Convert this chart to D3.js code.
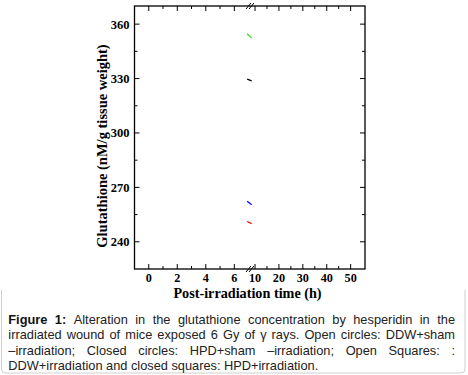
<!DOCTYPE html>
<html>
<head>
<meta charset="utf-8">
<script src="https://cdn.jsdelivr.net/npm/d3@7"></script>
<style>
  body { margin: 0; background: #fff; }
  svg { display: block; }
</style>
</head>
<body>
<script>
//Data
var times = [6.9, 8.6];               // the visible bits of the lines, either side of the axis break
var greenVals = [354.7, 352.3];
var blackVals = [329.7, 328.7];
var blueVals  = [262.4, 260.4];
var redVals   = [251.2, 250.0];

var seriesNames  = ["green", "black", "blue", "red"];
var seriesColors = ["#1ee61e", "#000000", "#0000ff", "#ff0000"];
var seriesVals   = [greenVals, blackVals, blueVals, redVals];

var xLeftTicks  = [0, 2, 4, 6];
var xLeftMinor  = [1, 3, 5];
var xRightTicks = [10, 20, 30, 40, 50];
var xRightMinor = [15, 25, 35, 45];
var yTicks = [240, 270, 300, 330, 360];
var yMinor = [255, 285, 315, 345];

var captionLines = [
  ["Figure 1:", "Alteration in the glutathione concentration by hesperidin in the"],
  ["", "irradiated wound of mice exposed 6 Gy of \u03b3 rays. Open circles: DDW+sham"],
  ["", "\u2013irradiation; Closed circles: HPD+sham \u2013irradiation; Open Squares: :"],
  ["", "DDW+irradiation and closed squares: HPD+irradiation."]
];

//Width and height
var w = 468;
var h = 375;
var L = 134.5, R = 365, T = 6, B = 269;
var breakX = 250;

var svg = d3.select("body").append("svg")
    .attr("width", w)
    .attr("height", h);

//Broken x axis: two linear pieces
var xLeft = d3.scaleLinear().domain([-1, 7.1]).range([L, breakX]);
var xRight = d3.scaleLinear().domain([7.9, 56]).range([breakX, R]);
function x(t) { return t <= 7.1 ? xLeft(t) : xRight(t); }

var y = d3.scaleLinear().domain([225, 370]).range([B, T]);

var serif = "'Liberation Serif', 'Times New Roman', serif";

//Lines
var line = d3.line()
    .x(function(d) { return x(d.t); })
    .y(function(d) { return y(d.v); });

seriesVals.forEach(function(vals, i) {
  var pts = times.map(function(t, j) { return {t: t, v: vals[j]}; });
  svg.append("path")
     .attr("d", line(pts))
     .attr("fill", "none")
     .attr("stroke", seriesColors[i])
     .attr("stroke-width", 1.2);
});

//Frame
svg.append("rect")
   .attr("x", L).attr("y", T)
   .attr("width", R - L).attr("height", B - T)
   .attr("fill", "none")
   .attr("stroke", "#000")
   .attr("stroke-width", 1.3);

//Inward ticks on all four sides
function tickLines(vals, scale, len, horiz) {
  vals.forEach(function(v) {
    var p = scale(v);
    if (horiz) {
      svg.append("line").attr("x1", p).attr("x2", p).attr("y1", B).attr("y2", B - len)
         .attr("stroke", "#000").attr("stroke-width", 1);
      svg.append("line").attr("x1", p).attr("x2", p).attr("y1", T).attr("y2", T + len)
         .attr("stroke", "#000").attr("stroke-width", 1);
    } else {
      svg.append("line").attr("y1", p).attr("y2", p).attr("x1", L).attr("x2", L + len)
         .attr("stroke", "#000").attr("stroke-width", 1);
      svg.append("line").attr("y1", p).attr("y2", p).attr("x1", R).attr("x2", R - len)
         .attr("stroke", "#000").attr("stroke-width", 1);
    }
  });
}
tickLines(xLeftTicks, xLeft, 5, true);
tickLines(xLeftMinor, xLeft, 3, true);
tickLines(xRightTicks, xRight, 5, true);
tickLines(xRightMinor, xRight, 3, true);
tickLines(yTicks, y, 5, false);
tickLines(yMinor, y, 3, false);

//Tick labels
svg.selectAll(".xl")
   .data(xLeftTicks.map(function(d) { return {v: d, s: xLeft}; })
     .concat(xRightTicks.map(function(d) { return {v: d, s: xRight}; })))
   .enter().append("text")
   .attr("x", function(d) { return d.s(d.v); })
   .attr("y", 281.5)
   .attr("text-anchor", "middle")
   .attr("font-family", serif)
   .attr("font-weight", "bold")
   .attr("font-size", 12.2)
   .text(function(d) { return d.v; });

svg.selectAll(".yl")
   .data(yTicks)
   .enter().append("text")
   .attr("x", 129.5)
   .attr("y", function(d) { return y(d) + 4.5; })
   .attr("text-anchor", "end")
   .attr("font-family", serif)
   .attr("font-weight", "bold")
   .attr("font-size", 12.5)
   .text(function(d) { return d; });

//Axis break marks
[T, B].forEach(function(yy) {
  [-1.5, 1.5].forEach(function(dx) {
    svg.append("line")
       .attr("x1", breakX + dx - 2.5).attr("y1", yy + 3)
       .attr("x2", breakX + dx + 2.5).attr("y2", yy - 3)
       .attr("stroke", "#000").attr("stroke-width", 1);
  });
});

//Axis titles
svg.append("text")
   .attr("x", 247.5).attr("y", 298)
   .attr("text-anchor", "middle")
   .attr("font-family", serif)
   .attr("font-weight", "bold")
   .attr("font-size", 14.2)
   .text("Post-irradiation time (h)");

svg.append("text")
   .attr("transform", "translate(107,146) rotate(-90)")
   .attr("text-anchor", "middle")
   .attr("font-family", serif)
   .attr("font-weight", "bold")
   .attr("font-size", 14.5)
   .text("Glutathione (nM/g tissue weight)");

//Caption box border
svg.append("path")
   .attr("d", "M1.5,290 L1.5,369 Q1.5,373 5.5,373 L461,373 Q465,373 465,369 L465,290")
   .attr("fill", "none")
   .attr("stroke", "#cfcfcf")
   .attr("stroke-width", 1);

//Caption, justified line by line
var capLeft = 8.3, capRight = 455;
captionLines.forEach(function(ln, i) {
  var by = 324 + i * 15.3;
  var words = [];
  if (ln[0]) ln[0].split(" ").forEach(function(wd) { words.push({t: wd, b: true}); });
  ln[1].split(" ").forEach(function(wd) { words.push({t: wd, b: false}); });
  var g = svg.append("g");
  var nodes = words.map(function(wd) {
    return g.append("text")
      .attr("y", by)
      .attr("font-family", "'Liberation Sans', Arial, sans-serif")
      .attr("font-size", 12.8)
      .attr("font-weight", wd.b ? "bold" : "normal")
      .attr("fill", wd.b ? "#111" : "#222")
      .text(wd.t);
  });
  var widths = nodes.map(function(n) { return n.node().getComputedTextLength(); });
  var total = d3.sum(widths);
  var last = i === captionLines.length - 1;
  var gap = last ? 3.5 : (capRight - capLeft - total) / (nodes.length - 1);
  var cx = capLeft;
  nodes.forEach(function(n, k) {
    n.attr("x", cx);
    cx += widths[k] + gap;
  });
});
</script>
</body>
</html>
